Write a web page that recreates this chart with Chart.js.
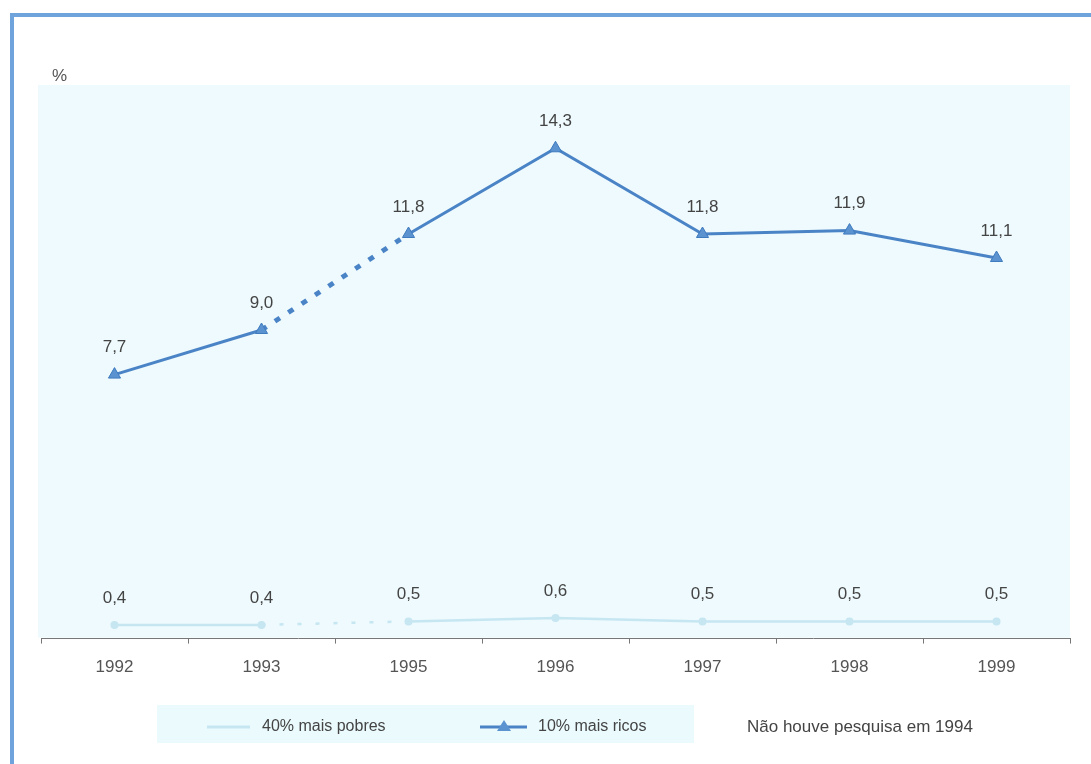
<!DOCTYPE html>
<html lang="pt">
<head>
<meta charset="utf-8">
<title>Renda média — 40% mais pobres e 10% mais ricos</title>
<script src="https://cdn.jsdelivr.net/npm/chart.js@4/dist/chart.umd.min.js"></script>
<style>
  html, body { margin: 0; padding: 0; background: #fff; }
  #wrap { position: relative; width: 1091px; height: 764px; overflow: hidden; }
  #frame {
    position: absolute; left: 10px; top: 13px; right: -10px; bottom: -10px;
    border-left: 4px solid #6fa3dc; border-top: 4px solid #6fa3dc;
  }
  #chart { position: absolute; left: 0; top: 0; }
</style>
</head>
<body>
<div id="wrap">
  <div id="frame"></div>
  <canvas id="chart" width="1091" height="764"></canvas>
</div>
<script>
/* ---------- dados ---------- */
const anos = ['1992', '1993', '1995', '1996', '1997', '1998', '1999'];
const pobres40 = [0.4, 0.4, 0.5, 0.6, 0.5, 0.5, 0.5];
const ricos10 = [7.7, 9.0, 11.8, 14.3, 11.8, 11.9, 11.1];
const semPesquisa = ['1993', '1995'];   // trecho tracejado: 1994 sem PNAD
const eixoY = { min: 0, max: 16 };
const nota = 'Não houve pesquisa em 1994';

const FONT = '"Liberation Sans", Arial, sans-serif';
const corRicos = '#4a84c6';
const corPobres = '#c6e6f2';

// segment between the two years around the missing survey gets dashed
function dashGap(dash) {
  return ctx => {
    const a = anos[ctx.p0DataIndex], b = anos[ctx.p1DataIndex];
    return (a === semPesquisa[0] && b === semPesquisa[1]) ? dash : undefined;
  };
}

/* ---------- plot background ---------- */
const fundo = {
  id: 'fundo',
  beforeDraw(chart) {
    const { ctx, chartArea: a } = chart;
    ctx.save();
    ctx.fillStyle = '#eefafd';
    ctx.fillRect(a.left - 3, a.top - 5, a.right - a.left + 3, a.bottom - a.top + 4);
    ctx.restore();
  }
};

/* ---------- value labels + "%" ---------- */
const rotulos = {
  id: 'rotulos',
  afterDatasetsDraw(chart) {
    const { ctx } = chart;
    ctx.save();
    ctx.font = '17px ' + FONT;
    ctx.fillStyle = '#444';
    ctx.textAlign = 'center';
    ctx.textBaseline = 'middle';
    chart.data.datasets.forEach((ds, i) => {
      chart.getDatasetMeta(i).data.forEach((pt, j) => {
        const txt = ds.data[j].toFixed(1).replace('.', ',');
        ctx.fillText(txt, pt.x, pt.y - 27);
      });
    });
    ctx.textAlign = 'left';
    ctx.fillStyle = '#555';
    ctx.fillText('%', 52, 76);
    ctx.restore();
  }
};

/* ---------- legend band at the bottom ---------- */
const legenda = {
  id: 'legenda',
  afterDraw(chart) {
    const { ctx } = chart;
    const y = 727;
    ctx.save();
    ctx.fillStyle = '#eafafd';
    ctx.fillRect(157, 705, 537, 38);

    // 40% mais pobres
    ctx.strokeStyle = corPobres;
    ctx.lineWidth = 3;
    ctx.beginPath(); ctx.moveTo(207, y); ctx.lineTo(250, y); ctx.stroke();

    // 10% mais ricos
    ctx.strokeStyle = corRicos;
    ctx.lineWidth = 3;
    ctx.beginPath(); ctx.moveTo(480, y); ctx.lineTo(527, y); ctx.stroke();
    ctx.fillStyle = '#5b93d0';
    ctx.beginPath();
    ctx.moveTo(504, y - 7); ctx.lineTo(511, y + 4); ctx.lineTo(497, y + 4); ctx.closePath();
    ctx.fill();

    ctx.fillStyle = '#444';
    ctx.textBaseline = 'middle';
    ctx.font = '16px ' + FONT;
    ctx.fillText(chart.data.datasets[0].label, 262, y);
    ctx.fillText(chart.data.datasets[1].label, 538, y);
    ctx.font = '17px ' + FONT;
    ctx.fillText(nota, 747, y);
    ctx.restore();
  }
};

new Chart(document.getElementById('chart'), {
  type: 'line',
  data: {
    labels: anos,
    datasets: [
      {
        label: '40% mais pobres',
        data: pobres40,
        borderColor: corPobres,
        backgroundColor: corPobres,
        borderWidth: 2.5,
        pointRadius: 4,
        pointStyle: 'circle',
        pointBorderWidth: 0,
        segment: { borderDash: dashGap([4, 14]) }
      },
      {
        label: '10% mais ricos',
        data: ricos10,
        borderColor: corRicos,
        backgroundColor: '#5b93d0',
        borderWidth: 3,
        pointStyle: 'triangle',
        pointRadius: 7,
        pointBorderColor: '#3f7bbf',
        pointBorderWidth: 1,
        segment: {
          borderDash: dashGap([6, 10]),
          borderWidth: ctx => dashGap(5)(ctx) || 3
        }
      }
    ]
  },
  options: {
    responsive: false,
    animation: false,
    layout: { padding: { left: 41, right: 21, top: 90, bottom: 72 } },
    plugins: { legend: { display: false }, tooltip: { enabled: false } },
    scales: {
      x: {
        offset: true,
        border: { color: '#777', width: 1 },
        grid: { display: true, drawOnChartArea: false, offset: true, tickLength: 5, color: '#777' },
        ticks: { color: '#555', font: { family: FONT, size: 17 }, padding: 14 }
      },
      y: {
        display: false,
        min: eixoY.min,
        max: eixoY.max
      }
    }
  },
  plugins: [fundo, rotulos, legenda]
});
</script>
</body>
</html>
